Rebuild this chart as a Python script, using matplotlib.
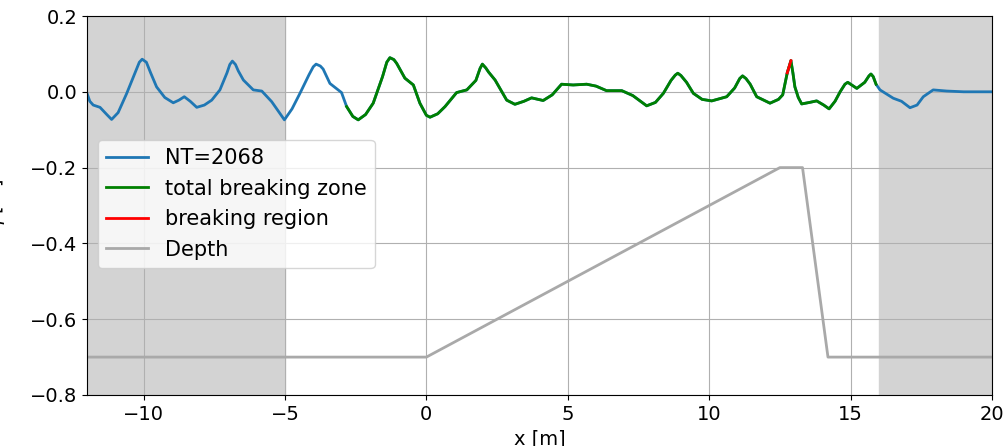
import numpy as np
import matplotlib
matplotlib.use("Agg")
import matplotlib.pyplot as plt

# free surface eta(x)
x_eta = [-12.0, -11.9, -11.78, -11.54, -11.3, -11.13, -10.9, -10.6, -10.3, -10.15, -10.05, -9.9, -9.75, -9.54, -9.25, -8.95,
         -8.75, -8.56, -8.35, -8.12, -7.85, -7.59, -7.30, -7.05, -6.95, -6.86, -6.75, -6.65, -6.47, -6.12, -5.82,
         -5.47, -5.2, -5.02, -4.75, -4.47, -4.15, -4.0, -3.90, -3.75, -3.65, -3.41, -3.0, -2.82, -2.6, -2.41,
         -2.15, -1.88, -1.55, -1.4, -1.29, -1.15, -1.05, -0.76, -0.46, -0.23, 0.0, 0.13, 0.4, 0.66, 1.07, 1.43,
         1.75, 1.9, 1.98, 2.1, 2.2, 2.43, 2.84, 3.13, 3.45, 3.72, 4.13, 4.45, 4.78, 5.19, 5.67, 6.0, 6.37,
         6.91, 7.3, 7.79, 8.1, 8.38, 8.65, 8.8, 8.89, 9.0, 9.2, 9.44, 9.75, 10.09, 10.62, 10.9, 11.08, 11.18, 11.3, 11.45,
         11.68, 12.15, 12.45, 12.6, 12.76, 12.89, 12.96, 13.03, 13.15, 13.27, 13.55, 13.80, 14.05, 14.24,
         14.45, 14.63, 14.80, 14.90, 15.0, 15.22, 15.5, 15.65, 15.72, 15.8, 15.9, 16.04, 16.51, 16.8, 17.10, 17.35, 17.57,
         17.92, 18.40, 19.0, 20.0]
eta = [-0.004, -0.025, -0.035, -0.041, -0.06, -0.073, -0.055, -0.005, 0.05, 0.078, 0.086, 0.078, 0.05, 0.013, -0.015, -0.029,
       -0.022, -0.013, -0.025, -0.041, -0.035, -0.022, 0.005, 0.05, 0.072, 0.081, 0.072, 0.055, 0.031, 0.005, 0.002,
       -0.026, -0.055, -0.074, -0.045, -0.004, 0.045, 0.066, 0.073, 0.068, 0.06, 0.022, -0.002, -0.039, -0.065, -0.074,
       -0.06, -0.030, 0.04, 0.078, 0.090, 0.085, 0.075, 0.036, 0.018, -0.030, -0.062, -0.067, -0.058, -0.039, -0.002,
       0.005, 0.03, 0.062, 0.073, 0.063, 0.052, 0.031, -0.022, -0.033, -0.025, -0.016, -0.023, -0.008, 0.020, 0.018,
       0.020, 0.015, 0.003, 0.003, -0.01, -0.037, -0.028, -0.004, 0.03, 0.044, 0.049, 0.043, 0.025, -0.004, -0.02,
       -0.024, -0.013, 0.01, 0.035, 0.042, 0.035, 0.02, -0.013, -0.030, -0.02, -0.008, 0.050, 0.082, 0.05, 0.013,
       -0.015, -0.032, -0.028, -0.024, -0.035, -0.045, -0.025, 0.000, 0.02, 0.025, 0.02, 0.009, 0.025, 0.042, 0.047, 0.04,
       0.02, 0.005, -0.017, -0.025, -0.042, -0.035, -0.013, 0.005, 0.002, 0.0, 0.0]

# bathymetry
x_depth = [-12, 0, 12.5, 13.3, 14.2, 20]
depth = [-0.7, -0.7, -0.2, -0.2, -0.7, -0.7]

zone = (-2.9, 16.0)      # total breaking zone
brk = (12.7, 12.9)       # breaking region
sponges = [(-12, -5), (16, 20)]

x_eta = np.array(x_eta)
eta = np.array(eta)

plt.rcParams['font.size'] = 14
fig = plt.figure(figsize=(10.04, 4.46), dpi=100)
ax = fig.add_axes([87/1004, 1 - 395/446, 905/1004, 379/446])

for a, b in sponges:
    ax.axvspan(a, b, color='lightgray', zorder=0)

ax.plot(x_eta, eta, color='#1f77b4', lw=2, label='NT=2068')
m = (x_eta >= zone[0]) & (x_eta <= zone[1])
ax.plot(x_eta[m], eta[m], color='green', lw=2, label='total breaking zone')
m = (x_eta >= brk[0]) & (x_eta <= brk[1])
ax.plot(x_eta[m], eta[m], color='red', lw=2, label='breaking region')
ax.plot(x_depth, depth, color='darkgray', lw=2, label='Depth')

ax.set_xlim(-12, 20)
ax.set_ylim(-0.8, 0.2)
ax.set_yticks([-0.8, -0.6, -0.4, -0.2, 0.0, 0.2])
ax.set_xticks([-10, -5, 0, 5, 10, 15, 20])
ax.grid(True, color='#b0b0b0', lw=0.8)
ax.set_axisbelow(True)
ax.set_xlabel('x [m]')
ax.set_ylabel(r'$\eta$ [m]')
ax.yaxis.set_label_coords(-0.088, 0.5)
ax.legend(loc='upper left', bbox_to_anchor=(0.012, 0.673), borderaxespad=0, fontsize=15)

fig.savefig('out.png', dpi=100)
